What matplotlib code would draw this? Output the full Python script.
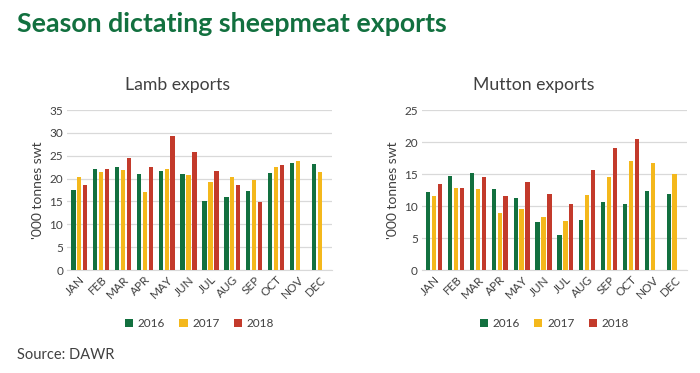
import numpy as np
import matplotlib as mpl
mpl.use('Agg')
import matplotlib.pyplot as plt

# ==== data ('000 tonnes swt) ====
months = ['JAN', 'FEB', 'MAR', 'APR', 'MAY', 'JUN', 'JUL', 'AUG', 'SEP', 'OCT', 'NOV', 'DEC']
years = ['2016', '2017', '2018']

lamb_2016 = [17.5, 22.2, 22.6, 21.0, 21.6, 21.0, 15.0, 16.0, 17.4, 21.3, 23.5, 23.2]
lamb_2017 = [20.4, 21.4, 21.9, 17.1, 22.0, 20.7, 19.3, 20.3, 19.7, 22.5, 23.9, 21.4]
lamb_2018 = [18.6, 22.0, 24.4, 22.6, 29.3, 25.8, 21.6, 18.5, 14.9, 22.9, np.nan, np.nan]

mutton_2016 = [12.2, 14.7, 15.2, 12.6, 11.2, 7.5, 5.5, 7.8, 10.6, 10.3, 12.4, 11.9]
mutton_2017 = [11.6, 12.8, 12.7, 8.9, 9.5, 8.3, 7.7, 11.8, 14.6, 17.0, 16.7, 15.0]
mutton_2018 = [13.4, 12.8, 14.6, 11.6, 13.8, 11.9, 10.3, 15.7, 19.0, 20.4, np.nan, np.nan]

colors = ['#12703f', '#f4b81c', '#c33a2b']
txt_col = '#404040'

plt.rcParams['font.family'] = ['Lato', 'DejaVu Sans']

fig = plt.figure(figsize=(7, 3.73), dpi=100)

# main title
fig.text(0.024, 0.935, 'Season dictating sheepmeat exports', color='#12703f',
         fontsize=19.3, fontweight='bold', va='center', ha='left')
fig.text(0.024, 0.048, 'Source: DAWR', color=txt_col, fontsize=10.5, va='center', ha='left')


def draw_panel(rect, series, ymax, title, title_x):
    ax = fig.add_axes(rect)
    x = np.arange(len(months))
    w = 0.2
    for i, (vals, c, yr) in enumerate(zip(series, colors, years)):
        ax.bar(x + (i - 1) * 0.27, vals, width=w, color=c, label=yr, zorder=3)
    ax.set_ylim(0, ymax)
    ax.set_xlim(-0.55, len(months) - 0.45)
    ax.set_yticks(np.arange(0, ymax + 1, 5))
    ax.set_xticks(x)
    ax.set_xticklabels(months, rotation=45, ha='right', rotation_mode='anchor')
    ax.grid(axis='y', color='#d9d9d9', linewidth=0.9, zorder=0)
    for s in ['top', 'right', 'left']:
        ax.spines[s].set_visible(False)
    ax.spines['bottom'].set_color('#d9d9d9')
    ax.tick_params(axis='both', length=0, labelsize=8.5, colors=txt_col, pad=3)
    ax.set_ylabel("'000 tonnes swt", color=txt_col, fontsize=10, labelpad=4)
    fig.text(title_x, 0.772, title, color=txt_col, fontsize=12.7, ha='center', va='center')
    ax.legend(loc='upper center', bbox_to_anchor=(0.5, -0.235), ncol=3, frameon=False,
              fontsize=8.5, handlelength=0.7, handleheight=0.7, columnspacing=1.2,
              handletextpad=0.4, labelcolor=txt_col)
    return ax


draw_panel([0.096, 0.276, 0.378, 0.429], [lamb_2016, lamb_2017, lamb_2018], 35,
           'Lamb exports', 0.253)
draw_panel([0.603, 0.276, 0.378, 0.429], [mutton_2016, mutton_2017, mutton_2018], 25,
           'Mutton exports', 0.762)

fig.savefig('out.png', dpi=100)
